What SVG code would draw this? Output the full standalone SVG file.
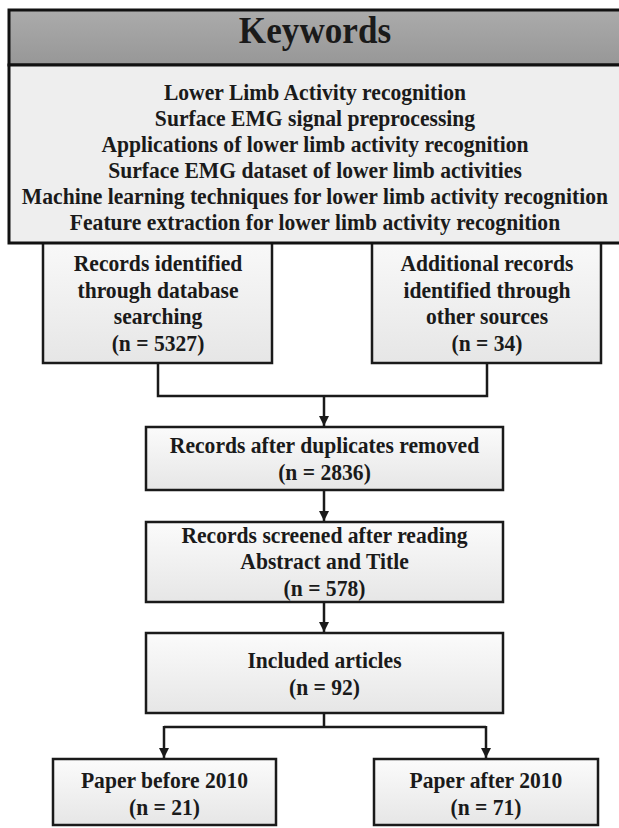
<svg xmlns="http://www.w3.org/2000/svg" width="619" height="828" viewBox="0 0 619 828">
<defs>
<linearGradient id="hdr" x1="0" y1="0" x2="0" y2="1">
<stop offset="0" stop-color="#ababab"/>
<stop offset="1" stop-color="#979797"/>
</linearGradient>
<linearGradient id="box" x1="0" y1="0" x2="0" y2="1">
<stop offset="0" stop-color="#fbfbfb"/>
<stop offset="1" stop-color="#e6e6e6"/>
</linearGradient>
<marker id="arr" viewBox="0 0 10 10" refX="10" refY="5" markerWidth="10" markerHeight="10" markerUnits="userSpaceOnUse" orient="auto">
<path d="M0,0 L10,5 L0,10 Z" fill="#1a1a1a"/>
</marker>
</defs>
<style>
.b{fill:url(#box);stroke:#1a1a1a;stroke-width:2.5}
.t{font-family:"Liberation Serif","Times New Roman",serif;font-weight:bold;font-size:23.5px;fill:#1a1a1a;text-anchor:middle}
.c{fill:none;stroke:#1a1a1a;stroke-width:2.5}
</style>
<rect width="619" height="828" fill="#ffffff"/>
<g id="left-source">
<rect class="b" x="43" y="228" width="229" height="135"/>
<text class="t" transform="translate(158,0) scale(0.92,1)" y="271.5">Records identified</text>
<text class="t" transform="translate(158,0) scale(0.92,1)" y="298">through database</text>
<text class="t" transform="translate(158,0) scale(0.92,1)" y="324.5">searching</text>
<text class="t" transform="translate(158,0) scale(0.92,1)" y="351">(n = 5327)</text>
</g>
<g id="right-source">
<rect class="b" x="372" y="228" width="229" height="135"/>
<text class="t" transform="translate(487,0) scale(0.92,1)" y="271.5">Additional records</text>
<text class="t" transform="translate(487,0) scale(0.92,1)" y="298">identified through</text>
<text class="t" transform="translate(487,0) scale(0.92,1)" y="324.5">other sources</text>
<text class="t" transform="translate(487,0) scale(0.92,1)" y="351">(n = 34)</text>
</g>
<g id="keywords">
<rect x="9" y="10" width="630" height="55" fill="url(#hdr)" stroke="#111" stroke-width="3"/>
<rect x="9" y="65" width="630" height="178" fill="#eeeeee" stroke="#111" stroke-width="3"/>
<text class="t" transform="translate(315,0) scale(0.95,1)" y="43" style="font-size:37px">Keywords</text>
<text class="t" transform="translate(315,0) scale(0.92,1)" y="100">Lower Limb Activity recognition</text>
<text class="t" transform="translate(315,0) scale(0.92,1)" y="126.5">Surface EMG signal preprocessing</text>
<text class="t" transform="translate(315,0) scale(0.92,1)" y="152.5">Applications of lower limb activity recognition</text>
<text class="t" transform="translate(315,0) scale(0.92,1)" y="178.5">Surface EMG dataset of lower limb activities</text>
<text class="t" transform="translate(315,0) scale(0.92,1)" y="204">Machine learning techniques for lower limb activity recognition</text>
<text class="t" transform="translate(315,0) scale(0.92,1)" y="230">Feature extraction for lower limb activity recognition</text>
</g>
<g id="duplicates">
<rect class="b" x="146" y="427" width="357" height="63"/>
<text class="t" transform="translate(324.5,0) scale(0.92,1)" y="453">Records after duplicates removed</text>
<text class="t" transform="translate(324.5,0) scale(0.92,1)" y="480">(n = 2836)</text>
</g>
<g id="screened">
<rect class="b" x="146" y="522" width="357" height="80"/>
<text class="t" transform="translate(324.5,0) scale(0.92,1)" y="543">Records screened after reading</text>
<text class="t" transform="translate(324.5,0) scale(0.92,1)" y="569.5">Abstract and Title</text>
<text class="t" transform="translate(324.5,0) scale(0.92,1)" y="596">(n = 578)</text>
</g>
<g id="included">
<rect class="b" x="146" y="633" width="357" height="80"/>
<text class="t" transform="translate(324.5,0) scale(0.92,1)" y="668">Included articles</text>
<text class="t" transform="translate(324.5,0) scale(0.92,1)" y="695">(n = 92)</text>
</g>
<g id="before2010">
<rect class="b" x="53" y="759" width="223" height="66"/>
<text class="t" transform="translate(164.5,0) scale(0.92,1)" y="788">Paper before 2010</text>
<text class="t" transform="translate(164.5,0) scale(0.92,1)" y="815">(n = 21)</text>
</g>
<g id="after2010">
<rect class="b" x="374" y="759" width="224" height="66"/>
<text class="t" transform="translate(486,0) scale(0.92,1)" y="788">Paper after 2010</text>
<text class="t" transform="translate(486,0) scale(0.92,1)" y="815">(n = 71)</text>
</g>
<g id="connectors">
<path class="c" d="M158,363 V396 H487 V363"/>
<path class="c" d="M324,396 V426" marker-end="url(#arr)"/>
<path class="c" d="M324,490 V521" marker-end="url(#arr)"/>
<path class="c" d="M324,602 V632" marker-end="url(#arr)"/>
<path class="c" d="M324,713 V727 M164,727 H486"/>
<path class="c" d="M164,726 V758" marker-end="url(#arr)"/>
<path class="c" d="M486,726 V758" marker-end="url(#arr)"/>
</g>
</svg>
